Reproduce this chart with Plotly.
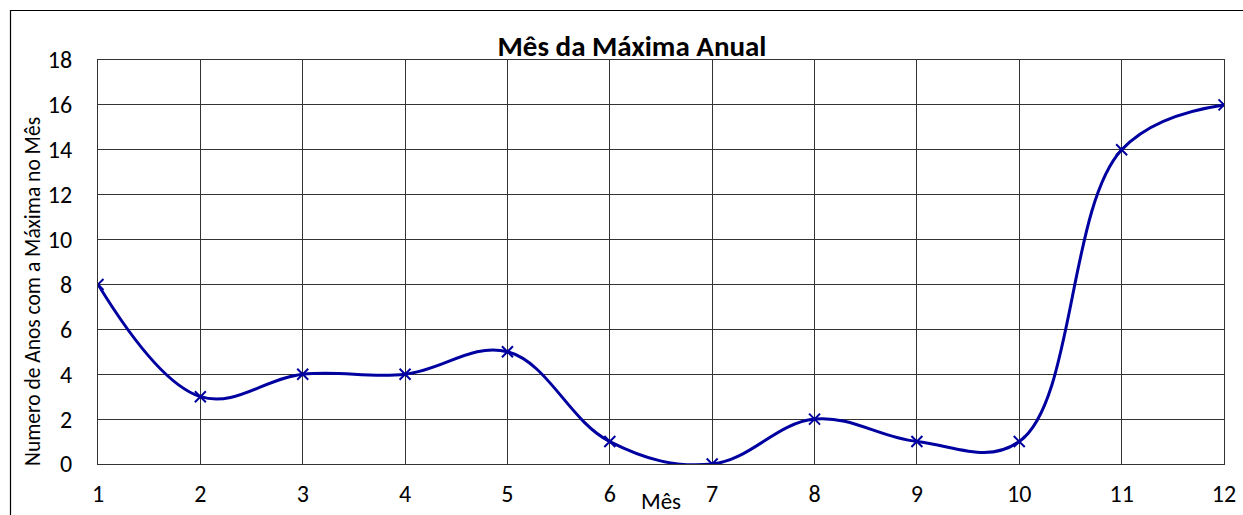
import plotly.graph_objects as go

months = [1, 2, 3, 4, 5, 6, 7, 8, 9, 10, 11, 12]
counts = [8, 3, 4, 4, 5, 1, 0, 2, 1, 1, 14, 16]
y_ticks = [0, 2, 4, 6, 8, 10, 12, 14, 16, 18]

W, H = 1243, 515
L, R, T, B = 98, 1224, 60, 464

fig = go.Figure()
fig.add_trace(go.Scatter(
    x=months, y=counts, mode="lines+markers",
    line=dict(color="#0000A0", width=3, shape="spline", smoothing=1.1),
    marker=dict(symbol="x-thin", size=11, line=dict(color="#0000A0", width=2), color="#0000A0"),
    showlegend=False,
))

def px(x):
    return (x - L) / (R - L)

def py(y):
    return (B - y) / (B - T)

fig.add_shape(type="rect", xref="paper", yref="paper",
              x0=px(10.5), x1=px(1260), y0=py(600), y1=py(10.5),
              line=dict(color="black", width=1.2), fillcolor="rgba(0,0,0,0)", layer="below")

font_family = "Carlito, Calibri, Lato, 'Open Sans', sans-serif"
tickfont = dict(size=24, family=font_family, color="black")

fig.add_annotation(text="Mês", xref="paper", yref="paper", x=px(661), y=py(501),
                   xanchor="center", yanchor="middle", showarrow=False,
                   font=dict(size=23, family=font_family, color="black"))
fig.add_annotation(text="Numero de Anos com a Máxima no Mês", xref="paper", yref="paper",
                   x=px(33), y=py(292), xanchor="center", yanchor="middle", textangle=-90,
                   showarrow=False, font=dict(size=21.5, family=font_family, color="black"))

fig.update_layout(
    width=W, height=H,
    margin=dict(l=L, r=W - R, t=T, b=H - B, autoexpand=False),
    paper_bgcolor="white", plot_bgcolor="white",
    font=dict(family=font_family, size=20, color="black"),
    title=dict(text="<b>Mês da Máxima Anual</b>", xref="container", x=632 / W, xanchor="center",
               yref="container", y=1 - 46 / H, yanchor="middle", font=dict(size=29, family=font_family)),
    xaxis=dict(range=[1, 12], tickmode="array", tickvals=months, ticks="",
               tickfont=tickfont, automargin=False,
               showgrid=True, gridcolor="#333333", gridwidth=1,
               showline=True, linecolor="#333333", linewidth=1, mirror=True,
               zeroline=False, ticklabelstandoff=8),
    yaxis=dict(range=[0, 18], tickmode="array", tickvals=y_ticks, ticks="",
               tickfont=tickfont, automargin=False,
               showgrid=True, gridcolor="#333333", gridwidth=1,
               showline=True, linecolor="#333333", linewidth=1, mirror=True,
               zeroline=False, ticklabelstandoff=20),
)

fig.write_html("out.html")
